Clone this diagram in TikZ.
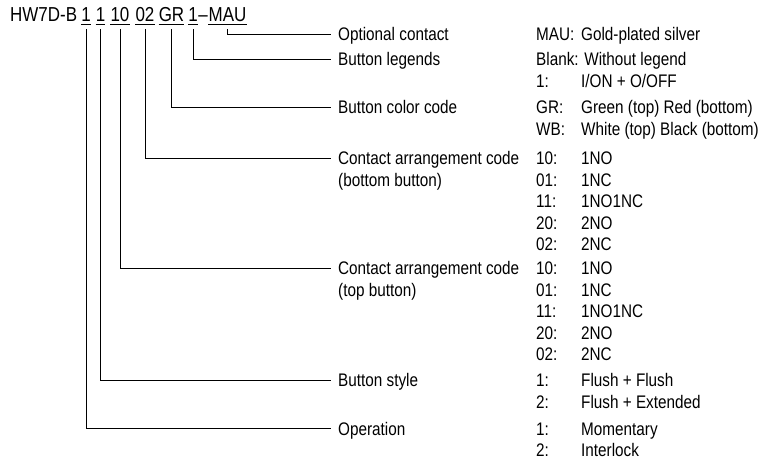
\documentclass[tikz,border=0pt]{standalone}
\usepackage{fontspec}
\setmainfont{Liberation Sans}[FakeStretch=0.84]
\tikzset{
  txt/.style={anchor=base west, inner sep=0pt, font=\fontsize{18.2}{21}\selectfont},
  ttl/.style={anchor=base, inner sep=0pt, font=\fontsize{20.2}{23}\selectfont},
  conn/.style={line width=0.85pt, black},
  uline/.style={line width=0.85pt, black}
}
\begin{document}
\begin{tikzpicture}[x=1pt,y=-1pt]
\useasboundingbox (0,0) rectangle (760,459);
% ---- title ----
\node[ttl, anchor=base west] (hw) at (10,21) {HW7D-B};
\node[ttl] (op) at (86,21) {1};
\node[ttl] (st) at (100.5,21) {1};
\node[ttl] (tb) at (120,21) {10};
\node[ttl] (bb) at (145,21) {02};
\node[ttl] (cc) at (171.5,21) {GR};
\node[ttl] (lg) at (193,21) {1};
\node[ttl] (da) at (203,21) {–};
\node[ttl] (ma) at (227.5,21) {MAU};
\foreach \n in {op,st,tb,bb,cc,lg,ma}
  \draw[uline] ([yshift=-3pt]\n.base west) -- ([yshift=-3pt]\n.base east);
% ---- labels ----
\def\sh{6.5}
\node[txt] (Lma) at (338,34+\sh) {Optional contact};
\node[txt] (Llg) at (338,59+\sh) {Button legends};
\node[txt] (Lcc) at (338,107+\sh) {Button color code};
\node[txt] (Lbb) at (338,158+\sh) {Contact arrangement code};
\node[txt] (Lbb2) at (338,179.5+\sh) {(bottom button)};
\node[txt] (Ltb) at (338,268+\sh) {Contact arrangement code};
\node[txt] (Ltb2) at (338,289.5+\sh) {(top button)};
\node[txt] (Lst) at (338,380+\sh) {Button style};
\node[txt] (Lop) at (338,428.5+\sh) {Operation};
% ---- codes and values ----
\node[txt] (k1) at (536,34+\sh) {MAU:};
\node[txt] (v1) at (581,34+\sh) {Gold-plated silver};
\node[txt] (k2) at (536,59+\sh) {Blank: Without legend};
\node[txt] (k3) at (536,80.5+\sh) {1:};
\node[txt] (v3) at (581,80.5+\sh) {I/ON + O/OFF};
\node[txt] (k4) at (536,107+\sh) {GR:};
\node[txt] (v4) at (581,107+\sh) {Green (top) Red (bottom)};
\node[txt] (k5) at (536,128.5+\sh) {WB:};
\node[txt] (v5) at (581,128.5+\sh) {White (top) Black (bottom)};
\foreach \y/\k/\v [count=\i] in {158/10/1NO,179.5/01/1NC,201/11/1NO1NC,222.5/20/2NO,244/02/2NC}{
  \node[txt] (bk\i) at (536,\y+\sh) {\k:};
  \node[txt] (bv\i) at (581,\y+\sh) {\v};
}
\foreach \y/\k/\v [count=\i] in {268/10/1NO,289.5/01/1NC,311/11/1NO1NC,332.5/20/2NO,354/02/2NC}{
  \node[txt] (tk\i) at (536,\y+\sh) {\k:};
  \node[txt] (tv\i) at (581,\y+\sh) {\v};
}
\node[txt] (sk1) at (536,380+\sh) {1:};
\node[txt] (sv1) at (581,380+\sh) {Flush + Flush};
\node[txt] (sk2) at (536,402+\sh) {2:};
\node[txt] (sv2) at (581,402+\sh) {Flush + Extended};
\node[txt] (ok1) at (536,428.5+\sh) {1:};
\node[txt] (ov1) at (581,428.5+\sh) {Momentary};
\node[txt] (ok2) at (536,450+\sh) {2:};
\node[txt] (ov2) at (581,450+\sh) {Interlock};
% ---- connectors ----
\foreach \a/\b in {ma/Lma,lg/Llg,cc/Lcc,bb/Lbb,tb/Ltb,st/Lst,op/Lop}
  \draw[conn] ([yshift=-8pt]\a.base) |- ([xshift=-7pt,yshift=\sh pt]\b.base west);
\end{tikzpicture}
\end{document}
